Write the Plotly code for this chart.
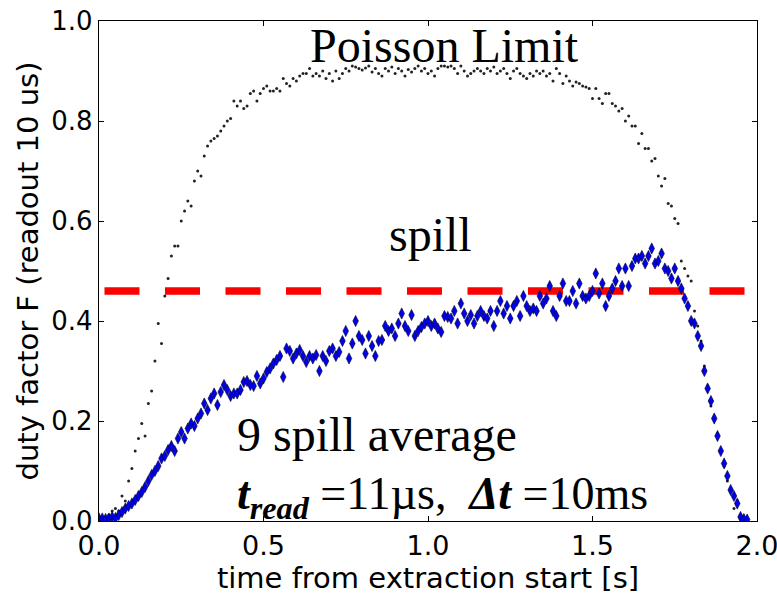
import plotly.graph_objects as go

# time axis (s), 10 ms bins
t_blue = [round(i * 0.01, 2) for i in range(198)]

# 9 spill average duty factor
duty_avg = [
    0.005, 0.005, 0.004, 0.005, 0.008, 0.006, 0.012, 0.018, 0.025, 0.030,
    0.035, 0.042, 0.050, 0.058, 0.068, 0.080, 0.092, 0.100, 0.110, 0.125,
    0.130, 0.142, 0.150, 0.140, 0.165, 0.178, 0.165, 0.185, 0.195, 0.190,
    0.205, 0.215, 0.235, 0.222, 0.245, 0.255, 0.232, 0.258, 0.272, 0.262,
    0.250, 0.255, 0.255, 0.262, 0.278, 0.280, 0.272, 0.270, 0.290, 0.275,
    0.285, 0.298, 0.305, 0.315, 0.322, 0.330, 0.288, 0.345, 0.340, 0.325,
    0.335, 0.342, 0.330, 0.318, 0.330, 0.325, 0.332, 0.300, 0.330, 0.320,
    0.340, 0.345, 0.330, 0.338, 0.360, 0.380, 0.325, 0.355, 0.400, 0.370,
    0.362, 0.335, 0.370, 0.350, 0.330, 0.360, 0.362, 0.390, 0.380, 0.385,
    0.370, 0.395, 0.415, 0.390, 0.380, 0.412, 0.370, 0.380, 0.388, 0.395,
    0.400, 0.390, 0.395, 0.385, 0.378, 0.410, 0.408, 0.405, 0.420, 0.395,
    0.435, 0.415, 0.400, 0.412, 0.395, 0.410, 0.420, 0.410, 0.405, 0.420,
    0.390, 0.420, 0.440, 0.415, 0.430, 0.405, 0.430, 0.440, 0.410, 0.450,
    0.430, 0.420, 0.425, 0.420, 0.450, 0.435, 0.445, 0.470, 0.420, 0.410,
    0.450, 0.475, 0.440, 0.440, 0.460, 0.435, 0.475, 0.450, 0.445, 0.450,
    0.460, 0.495, 0.455, 0.475, 0.430, 0.450, 0.465, 0.480, 0.505, 0.470,
    0.505, 0.470, 0.510, 0.525, 0.525, 0.530, 0.515, 0.530, 0.545, 0.515,
    0.520, 0.535, 0.505, 0.500, 0.485, 0.505, 0.480, 0.465, 0.445, 0.430,
    0.400, 0.395, 0.370, 0.350, 0.300, 0.265, 0.240, 0.205, 0.170, 0.140,
    0.115, 0.090, 0.062, 0.050, 0.035, 0.008, 0.004, 0.003,
]

# Poisson limit
t_poisson = [round(i * 0.01, 2) for i in range(198)]
duty_poisson = [
    0.003, 0.005, 0.008, 0.012, 0.020, 0.025, 0.020, 0.050, 0.040, 0.080,
    0.105, 0.140, 0.165, 0.195, 0.170, 0.235, 0.260, 0.320, 0.395, 0.355,
    0.450, 0.485, 0.530, 0.550, 0.550, 0.600, 0.620, 0.640, 0.630, 0.680,
    0.700, 0.690, 0.730, 0.750, 0.760, 0.765, 0.770, 0.780, 0.790, 0.800,
    0.805, 0.840, 0.830, 0.840, 0.825, 0.830, 0.855, 0.860, 0.840, 0.855,
    0.865, 0.870, 0.860, 0.860, 0.865, 0.860, 0.885, 0.875, 0.870, 0.885,
    0.880, 0.890, 0.895, 0.895, 0.905, 0.890, 0.895, 0.890, 0.900, 0.885,
    0.895, 0.880, 0.900, 0.885, 0.895, 0.905, 0.900, 0.910, 0.908, 0.905,
    0.902, 0.906, 0.910, 0.898, 0.905, 0.895, 0.890, 0.905, 0.900, 0.908,
    0.895, 0.905, 0.900, 0.890, 0.903, 0.898, 0.905, 0.910, 0.900, 0.905,
    0.895, 0.900, 0.890, 0.905, 0.910, 0.910, 0.908, 0.910, 0.905, 0.895,
    0.910, 0.900, 0.890, 0.895, 0.900, 0.905, 0.900, 0.895, 0.905, 0.900,
    0.908, 0.895, 0.900, 0.905, 0.895, 0.885, 0.900, 0.905, 0.895, 0.890,
    0.885, 0.895, 0.890, 0.900, 0.895, 0.900, 0.890, 0.895, 0.880, 0.905,
    0.895, 0.875, 0.890, 0.880, 0.870, 0.878, 0.875, 0.870, 0.868, 0.865,
    0.845, 0.865, 0.845, 0.835, 0.855, 0.855, 0.835, 0.830, 0.820, 0.825,
    0.800, 0.810, 0.790, 0.790, 0.755, 0.775, 0.745, 0.745, 0.720, 0.725,
    0.690, 0.670, 0.685, 0.635, 0.630, 0.605, 0.595, 0.520, 0.505, 0.490,
    0.480, 0.420, 0.390, 0.360, 0.310, 0.270, 0.230, 0.205, 0.175, 0.140,
    0.110, 0.080, 0.065, 0.025, 0.040, 0.012, 0.006, 0.004,
]

# spill level (dashed red line)
spill_x = [0.0167, 2.0]
spill_y = [0.46, 0.46]

x_ticks = [0.0, 0.5, 1.0, 1.5, 2.0]
y_ticks = [0.0, 0.2, 0.4, 0.6, 0.8, 1.0]

fig = go.Figure()
fig.add_trace(go.Scatter(
    x=spill_x, y=spill_y, mode="lines",
    line=dict(color="#ff0000", width=7.5, dash="35px,25.5px"),
    hoverinfo="skip", showlegend=False,
))
fig.add_trace(go.Scatter(
    x=t_poisson, y=duty_poisson, mode="markers",
    marker=dict(symbol="circle", size=3, color="#222222", line=dict(width=0)),
    showlegend=False,
))
fig.add_trace(go.Scatter(
    x=t_blue, y=duty_avg, mode="markers",
    marker=dict(symbol="diamond-tall", size=8, color="#0000ee",
                line=dict(color="#000022", width=0.6)),
    showlegend=False,
))

serif = "Liberation Serif"
annos = [
    dict(x=0.636, y=0.952, text="Poisson Limit", size=48),
    dict(x=0.876, y=0.574, text="spill", size=48),
    dict(x=0.414, y=0.174, text="9 spill average", size=48),
    dict(x=0.414, y=0.048, size=46,
         text="<b><i>t</i></b><sub><b><i>read</i></b></sub>\u00a0=11\u00b5s,\u00a0\u00a0<b><i>\u0394t</i></b>\u00a0=10ms"),
]
for a in annos:
    fig.add_annotation(x=a["x"], y=a["y"], text=a["text"], xref="x", yref="y",
                       xanchor="left", yanchor="middle", showarrow=False,
                       font=dict(family=serif, size=a["size"], color="black"))

axis_common = dict(
    showgrid=False, zeroline=False, showline=True, linecolor="black",
    linewidth=1.3, mirror="ticks", ticks="inside", ticklen=5, tickwidth=1,
    tickcolor="black", tickformat=".1f", automargin=False,
    ticklabeloverflow="allow",
)
fig.update_xaxes(range=[0, 2.0], tickvals=x_ticks, **axis_common,
                 tickfont=dict(family="DejaVu Sans", size=27, color="black"),
                 title=dict(text="time from extraction start [s]",
                            font=dict(family="DejaVu Sans", size=29, color="black"),
                            standoff=2))
fig.update_yaxes(range=[0, 1.0], tickvals=y_ticks, **axis_common,
                 tickfont=dict(family="DejaVu Sans", size=26, color="black"),
                 title=dict(text="duty factor F (readout 10 us)",
                            font=dict(family="DejaVu Sans", size=29, color="black"),
                            standoff=4))
fig.update_layout(
    width=777, height=597,
    margin=dict(l=99, r=20, t=21, b=76, autoexpand=False),
    paper_bgcolor="white", plot_bgcolor="white",
    showlegend=False,
)
fig.write_html("out.html")
